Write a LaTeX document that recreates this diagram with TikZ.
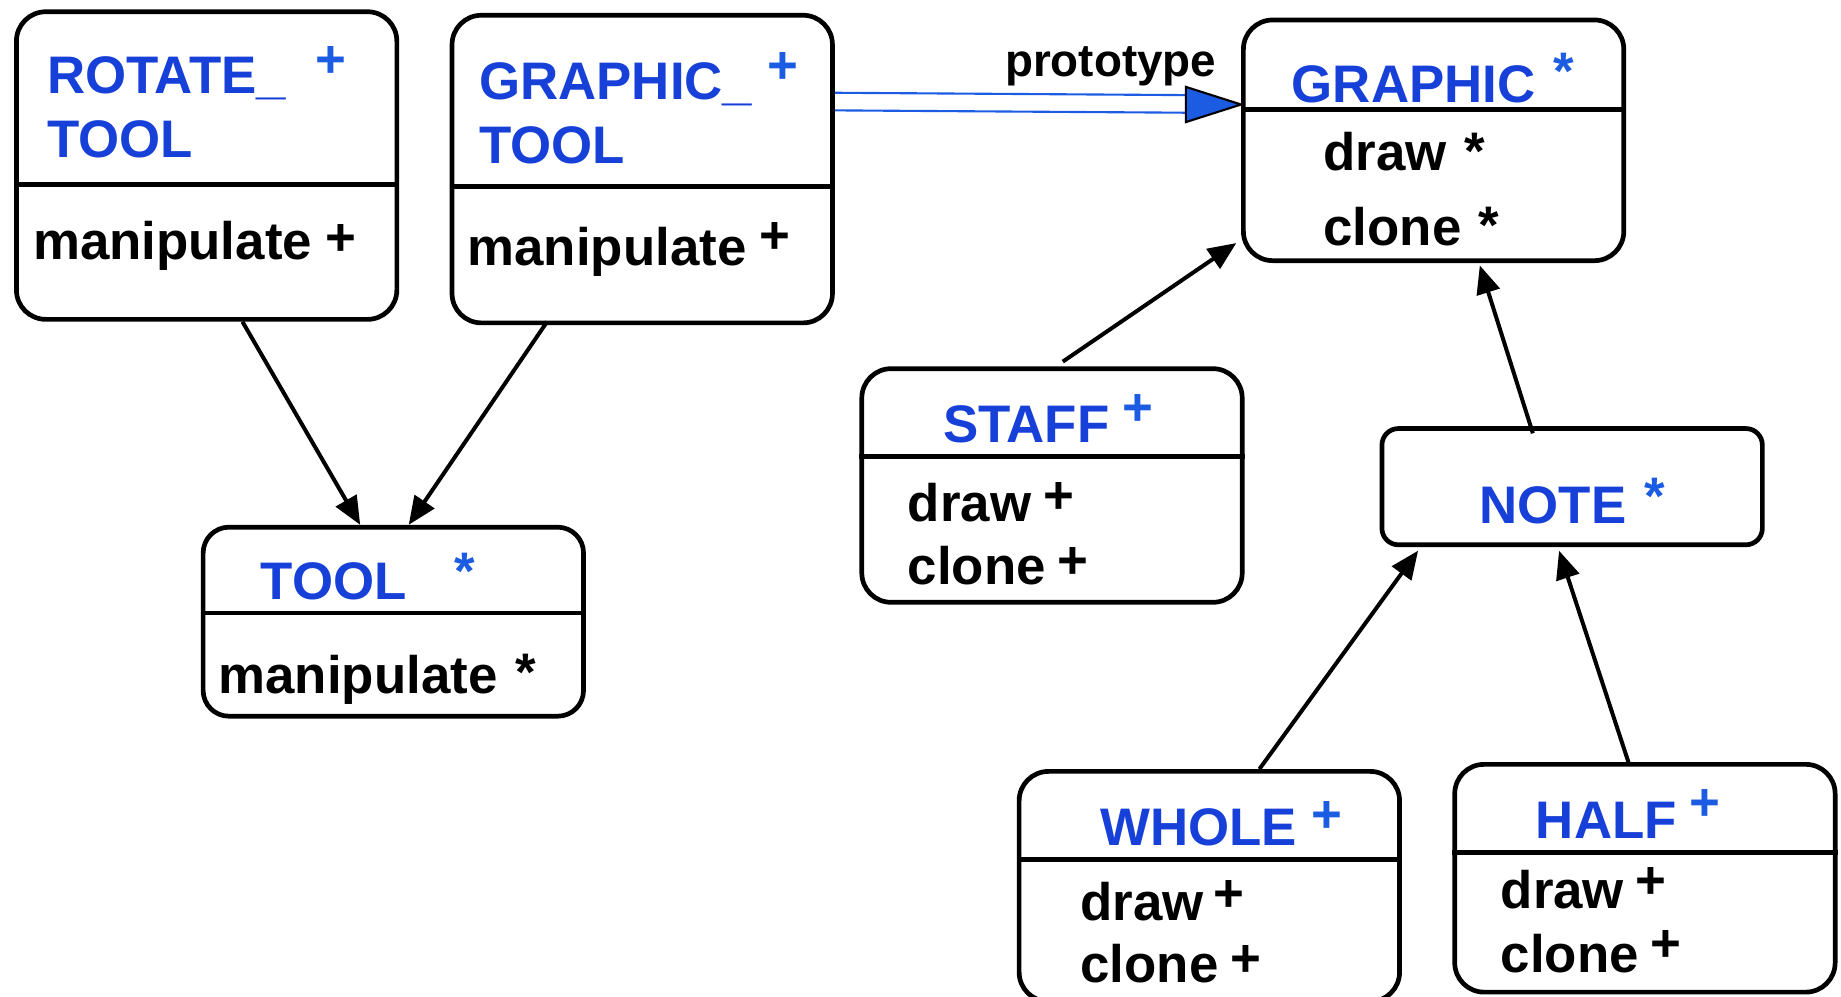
\documentclass[tikz,border=0pt]{standalone}
\usepackage{fontspec}
\setmainfont{Liberation Sans}
\usetikzlibrary{calc,arrows.meta}
\definecolor{tblue}{RGB}{22,64,216}
\definecolor{pblue}{RGB}{28,92,226}
\begin{document}
\begin{tikzpicture}[x=1pt,y=-1pt,
  cls/.style={draw, line width=4pt, rounded corners=25pt, inner sep=0pt, anchor=north west},
  dv/.style={line width=4pt},
  big/.style={font=\bfseries\fontsize{45}{50}\selectfont},
  ttl/.style={big, anchor=base west, inner sep=0pt, text=tblue},
  op/.style={big, anchor=base west, inner sep=0pt},
  sym/.style={big, anchor=base, inner sep=0pt},
  bsym/.style={sym, text=pblue},
  arr/.style={line width=3.4pt, -{Triangle[length=24pt,width=20pt]}},
  proto/.style={line width=1.8pt, draw=pblue},
]
\useasboundingbox (0,0) rectangle (1568,849);

% ---- class boxes
\node[cls, minimum width=324pt, minimum height=262pt] (rt) at (12,8) {};
\node[cls, minimum width=324pt, minimum height=262pt] (gt) at (383,11) {};
\node[cls, minimum width=324pt, minimum height=205pt] (g) at (1057,15) {};
\node[cls, minimum width=324pt, minimum height=161pt, rounded corners=22pt] (tool) at (171,447) {};
\node[cls, minimum width=324pt, minimum height=199pt] (staff) at (732,312) {};
\node[cls, minimum width=324pt, minimum height=99pt, rounded corners=14pt] (note) at (1175,363) {};
\node[cls, minimum width=324pt, minimum height=196pt] (whole) at (866,655) {};
\node[cls, minimum width=324pt, minimum height=194pt] (half) at (1237,649) {};

% ---- dividers
\draw[dv] (rt.west |- 0,157) -- (rt.east |- 0,157);
\draw[dv] (gt.west |- 0,159) -- (gt.east |- 0,159);
\draw[dv] (g.west |- 0,93) -- (g.east |- 0,93);
\draw[dv] (tool.west |- 0,522) -- (tool.east |- 0,522);
\draw[dv] (staff.west |- 0,389) -- (staff.east |- 0,389);
\draw[dv] (whole.west |- 0,732) -- (whole.east |- 0,732);
\draw[dv] (half.west |- 0,726) -- (half.east |- 0,726);

% ---- texts
\node[ttl] (rt1) at (40,80) {ROTATE\_};
\node[ttl] (rt2) at (40,134) {TOOL};
\node[bsym] (rt3) at (282,66) {+};
\node[op] (rt4) at (28,221) {manipulate};
\node[sym] (rt5) at (290,218) {+};

\node[ttl] (gt1) at (408,85) {GRAPHIC\_};
\node[ttl] (gt2) at (408,139) {TOOL};
\node[bsym] (gt3) at (667,71) {+};
\node[op] (gt4) at (398,226) {manipulate};
\node[sym] (gt5) at (660,216) {+};

\node[ttl] (g1) at (1100,87) {GRAPHIC};
\node[bsym] (g2) at (1332,76) {*};
\node[op] (g3) at (1127,145) {draw};
\node[sym] (g4) at (1256,144) {*};
\node[op] (g5) at (1127,209) {clone};
\node[sym] (g6) at (1268,207) {*};

\node[ttl] (tl1) at (222,511) {TOOL};
\node[bsym] (tl2) at (396,502) {*};
\node[op] (tl3) at (186,591) {manipulate};
\node[sym] (tl4) at (448,588) {*};

\node[ttl] (st1) at (803,377) {STAFF};
\node[bsym] (st2) at (969,362) {+};
\node[op] (st3) at (773,444) {draw};
\node[sym] (st4) at (902,437) {+};
\node[op] (st5) at (773,498) {clone};
\node[sym] (st6) at (914,493) {+};

\node[ttl] (nt1) at (1260,446) {NOTE};
\node[bsym] (nt2) at (1409,438) {*};

\node[ttl] (wh1) at (937,720) {WHOLE};
\node[bsym] (wh2) at (1130,709) {+};
\node[op] (wh3) at (920,784) {draw};
\node[sym] (wh4) at (1047,776) {+};
\node[op] (wh5) at (920,837) {clone};
\node[sym] (wh6) at (1061,832) {+};

\node[ttl] (hf1) at (1308,714) {HALF};
\node[bsym] (hf2) at (1452,699) {+};
\node[op] (hf3) at (1278,774) {draw};
\node[sym] (hf4) at (1406,765) {+};
\node[op] (hf5) at (1278,828) {clone};
\node[sym] (hf6) at (1419,819) {+};

% ---- prototype connector
\coordinate (ptip) at ([yshift=30.5pt]g.west);
\draw[proto] (gt.east |- 0,79) -- ($(ptip)+(-47,-8)$);
\draw[proto] (gt.east |- 0,94) -- ($(ptip)+(-47,7)$);
\draw[line width=1.8pt, fill=pblue, line join=miter] (ptip) -- ++(-47,-15) -- ++(0,30) -- cycle;
\node[big, font=\bfseries\fontsize{39}{44}\selectfont, anchor=base, inner sep=0pt] (plab) at (946,65) {prototype};

% ---- inheritance arrows
\draw[arr] ($(rt.south west)!0.593!(rt.south east)$) -- ($(tool.north west)!0.414!(tool.north east)$);
\draw[arr] ($(gt.south west)!0.253!(gt.south east)+(0,-3)$) -- ($(tool.north west)!0.54!(tool.north east)$);
\draw[arr] ($(staff.north west)!0.528!(staff.north east)+(0,-4)$) -- ([xshift=-4pt,yshift=17pt]g.south west);
\draw[arr] ($(note.north west)!0.398!(note.north east)+(0,6)$) -- ($(g.south west)!0.62!(g.south east)+(0,2)$);
\draw[arr] ($(whole.north west)!0.63!(whole.north east)$) -- ($(note.south west)!0.10!(note.south east)+(0,3)$);
\draw[arr] ($(half.north west)!0.46!(half.north east)+(0,3)$) -- ($(note.south west)!0.466!(note.south east)+(0,3)$);
\end{tikzpicture}
\end{document}
